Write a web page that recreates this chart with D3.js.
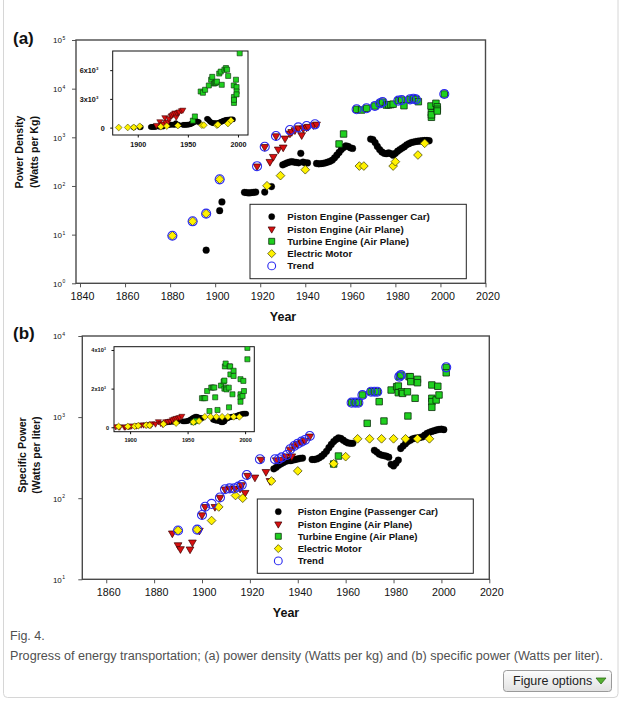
<!DOCTYPE html>
<html><head><meta charset="utf-8">
<script src="https://cdn.jsdelivr.net/npm/d3@7"></script>
<style>body{margin:0;background:#fff}svg{display:block}text{font-family:"Liberation Sans",Arial,sans-serif}</style>
</head><body><div id="chart"></div>
<script>
// ---------------- DATA ----------------
const seriesNames = ["Piston Engine (Passenger Car)","Piston Engine (Air Plane)","Turbine Engine (Air Plane)","Electric Motor","Trend"];
const xTicksA = [1840,1860,1880,1900,1920,1940,1960,1980,2000,2020];
const xTicksB = [1860,1880,1900,1920,1940,1960,1980,2000,2020];
const yExpA = [0,1,2,3,4,5];
const yExpB = [1,2,3,4];
const insetXTicks = [1900,1950,2000];
const insetYTicksA = [[0,"0"],[3000,"3x10"],[6000,"6x10"]];
const insetYTicksB = [[0,"0"],[2000,"2x10"],[4000,"4x10"]];

// (a) power density, W/kg  [year, value]
const carA = [[1896,4.8],[1902,31],[1903,47],[1913,74],[1914,73],[1915,72],[1916,73],[1917,74],[1918,75],[1922,75],[1925,97],
 [1930,272],[1931,285],[1932,300],[1933,310],[1934,316],[1935,310],[1936,305],[1937,300],[1938,470],[1939,310],[1940,300],[1941,298],
 [1945,290],[1946,285],[1947,288],[1948,292],[1949,300],[1950,310],[1951,322],[1952,340],[1953,380],[1954,430],[1955,490],[1956,560],[1957,620],[1958,670],[1959,650],[1960,610],[1961,590],
 [1969,920],[1970,900],[1971,780],[1972,650],[1973,560],[1974,500],[1975,470],[1976,460],[1977,480],[1978,460],[1979,430],[1980,470],[1981,520],[1982,560],[1983,600],[1984,640],[1985,700],[1986,740],[1987,780],[1988,800],[1989,820],[1990,830],[1991,840],[1992,850],[1993,860],[1994,860],[1995,850]];
const pistonA = [[1918.6,255],[1922,640],[1924.3,316],[1925.8,400],[1927,1065],[1928,567],[1930.2,624],[1931,955],[1933.2,1210],[1934,1300],[1935.4,1410],[1936.9,1550],[1938.4,1117],[1939.1,1530],[1940.6,1607],[1941.3,1660],[1943.6,1790],[1945,1850]];
const turbineA = [[1955,730],[1957,1170],[1962.8,3770],[1965,3640],[1967.2,3950],[1970.9,4400],[1973.2,5000],[1974.3,5300],[1976,4600],[1977,4650],[1978,4700],[1979,4800],[1981.3,5650],[1982.8,5850],[1983.8,4470],[1986.5,6050],[1988,6220],[1989.1,6050],[1990.2,5400],
 [1995.8,4400],[1996,3200],[1996,2580],[1996,2900],[1998,5000],[1998.6,4230],[1998.6,3770],[1998.6,3470],[2001.7,7760]];
const electricA = [[1881,9.5],[1890,18.8],[1896,27],[1902,137],[1923,101],[1929,163],[1940,216],[1964,257],[1966,257],[1979,257],[1980,316],[1990,433],[1993,753]];
const trendA = [[1881,9.5],[1890,18.8],[1896,27],[1902,137],[1918.6,255],[1922,640],[1927,1065],[1933.2,1410],[1936.9,1600],[1940.6,1710],[1944.3,1850],
 [1962.8,3770],[1967.2,3950],[1970.9,4400],[1973.2,5000],[1974.3,5320],[1981.3,5660],[1982.8,5850],[1986.5,6040],[1988,6220],[1989.1,6040],[2001.7,7760]];

// (b) specific power, W/liter
const carB = [[1930,230],[1931,240],[1932,255],[1933,265],[1934,275],[1935,285],[1936,290],[1937,290],[1938,295],[1939,300],[1940,305],[1941,310],[1942,312],
 [1946,300],[1947,300],[1948,305],[1949,315],[1950,330],[1951,350],[1952,378],[1953,420],[1954,460],[1955,500],[1956,530],[1957,555],[1958,545],[1959,520],[1960,495],[1961,480],[1962,475],[1963,475],
 [1972,390],[1973,370],[1974,350],[1975,340],[1976,335],[1977,330],[1978,320],[1979,262],[1980,250],[1981,270],[1982,295],[1983,410],[1984,440],[1985,470],[1986,500],[1987,520],[1988,540],[1989,550],[1990,555],[1991,560],[1992,570],[1993,600],[1994,630],[1995,650],[1996,665],[1997,680],[1998,695],[1999,705],[2000,710],[2001,700]];
const pistonB = [[1887.6,37],[1890,26.5],[1891,23.7],[1895,23.5],[1896,28.6],[1898.9,40],[1900,62],[1901.3,78.5],[1905.4,78.5],[1907.5,102],[1909.6,129],[1911.7,132],[1913.8,132],[1915.9,132],[1916.6,146],[1918,117],[1919,190],[1922.1,181],[1924.6,300],[1926.7,212],[1928.4,164],[1931,295],[1933,300],[1935,330],[1937.5,330],[1936.8,400],[1938.5,440],[1940,470],[1941.6,490],[1943,515],[1945,580]];
const turbineB = [[1955,264],[1957,331],[1962.5,1506],[1964,1506],[1965.3,1506],[1967,1874],[1969,838],[1970.6,2056],[1972,2056],[1973.2,2056],[1974,1550],[1976,895],[1979,2157],[1981.3,2370],[1982,2000],[1982,2415],[1982.4,3150],[1983.1,3300],[1983.4,2050],[1983.8,1960],[1985.8,2050],[1986,1032],[1986.5,3150],[1987,3150],[1987.2,2735],[1989,1706],[1990,2925],[1990,2655],
 [1996,2490],[1996,1706],[1996,1550],[1996,1320],[1997.8,1625],[1998.5,2400],[1999,1874],[2002,4110],[2002,3520]];
const electricB = [[1890,40],[1898,41],[1904,53],[1907,78],[1914,108],[1917,100],[1929,163],[1940,217],[1955,266],[1960,325],[1965,540],[1970,540],[1975,540],[1980,540],[1985,540],[1990,540],[1995,540]];
const trendB = [[1890,40],[1898,41],[1900,62],[1901.3,78.5],[1904,85],[1907.5,102],[1909.6,129],[1911.5,132],[1913.5,132],[1915.2,139],[1916.6,146],[1918.7,193],[1924.2,302],[1930.5,302],[1932,302],[1933.3,319],[1935.4,341],[1936.8,401],[1938.5,440],[1940,470],[1941.6,498],[1943,522],[1945,585],
 [1962.5,1506],[1964,1506],[1965.3,1506],[1967,1874],[1970.6,2056],[1972,2056],[1973.2,2056],[1982.4,3150],[1983.1,3300],[2002,4110]];

// ---------------- DRAW ----------------
const W = 633, H = 704;
const svg = d3.select("#chart").append("svg").attr("width", W).attr("height", H);

const triDown = {draw(ctx, size){const s=Math.sqrt(size*4/Math.sqrt(3));const h=s*Math.sqrt(3)/2;ctx.moveTo(-s/2,-h/3);ctx.lineTo(s/2,-h/3);ctx.lineTo(0,2*h/3);ctx.closePath();}};
const diamond = {draw(ctx, size){const r=Math.sqrt(size/2);ctx.moveTo(0,-r);ctx.lineTo(r,0);ctx.lineTo(0,r);ctx.lineTo(-r,0);ctx.closePath();}};
const styles = [
  {type:d3.symbolCircle, fill:"#000", stroke:"#000", sw:0.3, size:36},
  {type:triDown, fill:"#d81010", stroke:"#3a0000", sw:0.7, size:26},
  {type:d3.symbolSquare, fill:"#1fd01f", stroke:"#0b300b", sw:0.8, size:42},
  {type:diamond, fill:"#fff200", stroke:"#3a3a00", sw:0.7, size:38},
  {type:d3.symbolCircle, fill:"none", stroke:"#2b2bf0", sw:1.1, size:64}
];

function drawSeries(g, data, st, x, y, scale){
  g.append("g").selectAll("path").data(data).join("path")
    .attr("transform", d => `translate(${x(d[0])},${y(d[1])})`)
    .attr("d", d3.symbol().type(st.type).size(st.size*scale*scale))
    .attr("fill", st.fill).attr("stroke", st.stroke).attr("stroke-width", st.sw*scale);
}

function panel(o){
  const g = svg.append("g");
  const x = d3.scaleLinear().domain(o.xDom).range([o.x0, o.x1]);
  const y = d3.scaleLog().domain(o.yDom).range([o.y1, o.y0]);
  // x ticks
  const xa = g.append("g").attr("transform", `translate(0,${o.y1})`)
    .call(d3.axisBottom(x).tickValues(o.xTicks).tickFormat(d3.format("d")).tickSize(4).tickSizeOuter(0));
  xa.select(".domain").remove();
  xa.selectAll("line").attr("stroke","#555");
  xa.selectAll("text").attr("font-size", 10.7).attr("fill","#111").attr("dy","0.95em").attr("dx","2");
  // y ticks
  const ya = g.append("g").attr("transform", `translate(${o.frameX0},0)`)
    .call(d3.axisLeft(y).tickValues(o.yExp.map(e => Math.pow(10,e))).tickFormat("").tickSize(4).tickSizeOuter(0));
  ya.select(".domain").remove();
  ya.selectAll("line").attr("stroke","#555");
  ya.selectAll(".tick").append("text").attr("x",-o.yLabOff).attr("dy","0.35em").attr("text-anchor","end")
    .attr("font-size",8).attr("fill","#111").text("10");
  ya.selectAll(".tick").append("text").attr("x",-o.yLabOff+0.4).attr("dy","-0.1em").attr("text-anchor","start")
    .attr("font-size",5).attr("fill","#111").text(d => String(Math.round(Math.log10(d))));
  // frame
  g.append("rect").attr("x",o.frameX0).attr("y",o.y0).attr("width",o.x1-o.frameX0).attr("height",o.y1-o.y0)
    .attr("fill","none").attr("stroke","#4a4a4a").attr("stroke-width",1.4);
  // data
  const sets = [o.car, o.piston, o.turbine, o.electric];
  const order = [0,1,2,3];
  order.forEach(i => drawSeries(g, sets[i], styles[i], x, y, 1));
  drawSeries(g, o.trend, styles[4], x, y, 1);

  // inset
  const ig = g.append("g");
  const ix = d3.scaleLinear().domain(o.inXDom).range([o.inX0, o.inX1]);
  const iy = d3.scaleLinear().domain(o.inYDom).range([o.inY1, o.inY0]);
  ig.append("rect").attr("x",o.inX0).attr("y",o.inY0).attr("width",o.inX1-o.inX0).attr("height",o.inY1-o.inY0)
    .attr("fill","#fff").attr("stroke","#111").attr("stroke-width",1);
  const ixa = ig.append("g").attr("transform",`translate(0,${o.inY1})`)
    .call(d3.axisBottom(ix).tickValues(insetXTicks).tickFormat(d3.format("d")).tickSize(2.5).tickSizeOuter(0));
  ixa.select(".domain").remove();
  ixa.selectAll("line").attr("stroke","#111");
  ixa.selectAll("text").attr("font-size",o.inFont).attr("font-weight","bold").attr("fill","#111").attr("dy","0.9em");
  const iya = ig.append("g").attr("transform",`translate(${o.inX0},0)`)
    .call(d3.axisLeft(iy).tickValues(o.inYTicks.map(t=>t[0])).tickFormat("").tickSize(2.5).tickSizeOuter(0));
  iya.select(".domain").remove();
  iya.selectAll("line").attr("stroke","#111");
  iya.selectAll(".tick").each(function(d){
    const lab = o.inYTicks.find(t=>t[0]===d)[1];
    const supW = o.inFont*0.4;
    const endX = d===0 ? -o.inZeroOff : -o.inLabOff - supW;
    d3.select(this).append("text").attr("x", endX).attr("dy","0.35em")
      .attr("text-anchor","end").attr("font-size",o.inFont).attr("font-weight","bold").attr("fill","#111").text(lab);
    if(d!==0){
      d3.select(this).append("text").attr("x",endX+0.3).attr("dy","-0.15em").attr("text-anchor","start")
        .attr("font-size",o.inFont*0.6).attr("font-weight","bold").attr("fill","#111").text("3");
    }
  });
  const clipId = "clip"+o.id;
  ig.append("clipPath").attr("id",clipId).append("rect").attr("x",o.inX0).attr("y",o.inY0).attr("width",o.inX1-o.inX0).attr("height",o.inY1-o.inY0);
  const idg = ig.append("g").attr("clip-path",`url(#${clipId})`);
  order.forEach(i => drawSeries(idg, sets[i], styles[i], ix, iy, 0.78));

  // legend
  const lg = g.append("g");
  lg.append("rect").attr("x",o.lgX0).attr("y",o.lgY0).attr("width",o.lgX1-o.lgX0).attr("height",o.lgY1-o.lgY0)
    .attr("fill","#fff").attr("stroke","#222").attr("stroke-width",1);
  seriesNames.forEach((nm,i) => {
    const cy = o.lgRow0 + i*12.3;
    lg.append("path").attr("transform",`translate(${o.lgSym},${cy})`)
      .attr("d", d3.symbol().type(styles[i].type).size(styles[i].size*(i===4?0.75:0.85)))
      .attr("fill",styles[i].fill).attr("stroke",styles[i].stroke).attr("stroke-width",styles[i].sw);
    lg.append("text").attr("x",o.lgText).attr("y",cy+3.5).attr("font-size",o.lgFont).attr("font-weight","bold")
      .attr("fill","#111").text(nm);
  });

  // titles
  g.append("text").attr("x",13).attr("y",o.tagY).attr("font-size",17).attr("font-weight","bold").attr("fill","#111").text(o.tag);
  g.append("text").attr("x",o.yearX).attr("y",o.yearY).attr("text-anchor","middle").attr("font-size",12.5)
    .attr("font-weight","bold").attr("fill","#111").text("Year");
  o.yTitle.forEach((t,i) => {
    g.append("text").attr("transform",`translate(${o.yTitleX[i]},${o.yTitleY}) rotate(-90)`)
      .attr("text-anchor","middle").attr("font-size",10.6).attr("font-weight","bold").attr("fill","#111").text(t);
  });
}

panel({id:"a", tag:"(a)", tagY:44, xDom:[1840,2020], x0:80, x1:485.5, frameX0:76, yDom:[1,1e5], y0:40, y1:283.3, yLabOff:14,
  xTicks:xTicksA, yExp:yExpA, car:carA, piston:pistonA, turbine:turbineA, electric:electricA, trend:trendA,
  inXDom:[1875,2010], inX0:112.7, inX1:248, inYDom:[-770,8000], inY0:51, inY1:135, inYTicks:insetYTicksA, inFont:7.2, inLabOff:14, inZeroOff:8,
  lgX0:250, lgX1:466.3, lgY0:204.3, lgY1:278.7, lgRow0:216.7, lgSym:271.7, lgText:287.3, lgFont:9.75,
  yearX:283, yearY:321, yTitle:["Power Density","(Watts per Kg)"], yTitleX:[23,37.5], yTitleY:152});

panel({id:"b", tag:"(b)", tagY:339, xDom:[1850,2020], x0:82.3, x1:489.3, frameX0:82.3, yDom:[10,1e4], y0:336, y1:579.3, yLabOff:20.5,
  xTicks:xTicksB, yExp:yExpB, car:carB, piston:pistonB, turbine:turbineB, electric:electricB, trend:trendB,
  inXDom:[1886,2008], inX0:114, inX1:254.3, inYDom:[-230,4170], inY0:346.7, inY1:431.7, inYTicks:insetYTicksB, inFont:5.6, inLabOff:8, inZeroOff:5,
  lgX0:257.3, lgX1:473.3, lgY0:499, lgY1:573.3, lgRow0:511.7, lgSym:278.3, lgText:297.7, lgFont:9.6,
  yearX:286, yearY:617, yTitle:["Specific Power","(Watts per liter)"], yTitleX:[26,39.5], yTitleY:455});

// page furniture
svg.append("rect").attr("x",3.5).attr("y",-10).attr("width",614.5).attr("height",707.5).attr("rx",4)
  .attr("fill","none").attr("stroke","#d6d6d6");
svg.append("text").attr("x",10).attr("y",640).attr("font-size",12.5).attr("fill","#505050").text("Fig. 4.");
svg.append("text").attr("x",10).attr("y",659.5).attr("font-size",12.5).attr("fill","#505050")
  .attr("textLength",593).attr("lengthAdjust","spacingAndGlyphs")
  .text("Progress of energy transportation; (a) power density (Watts per kg) and (b) specific power (Watts per liter).");
const defs = svg.append("defs");
const grad = defs.append("linearGradient").attr("id","btn").attr("x1",0).attr("y1",0).attr("x2",0).attr("y2",1);
grad.append("stop").attr("offset","0%").attr("stop-color","#fdfdfd");
grad.append("stop").attr("offset","100%").attr("stop-color","#e1e1e1");
svg.append("rect").attr("x",503.5).attr("y",670.5).attr("width",108).attr("height",21).attr("rx",3)
  .attr("fill","url(#btn)").attr("stroke","#9a9a9a");
svg.append("text").attr("x",513).attr("y",685).attr("font-size",12.5).attr("fill","#222").text("Figure options");
svg.append("path").attr("d","M596,678 L606,678 L601,684 Z").attr("fill","#55b030").attr("stroke","#2d6e18").attr("stroke-width",0.8);
</script></body></html>
